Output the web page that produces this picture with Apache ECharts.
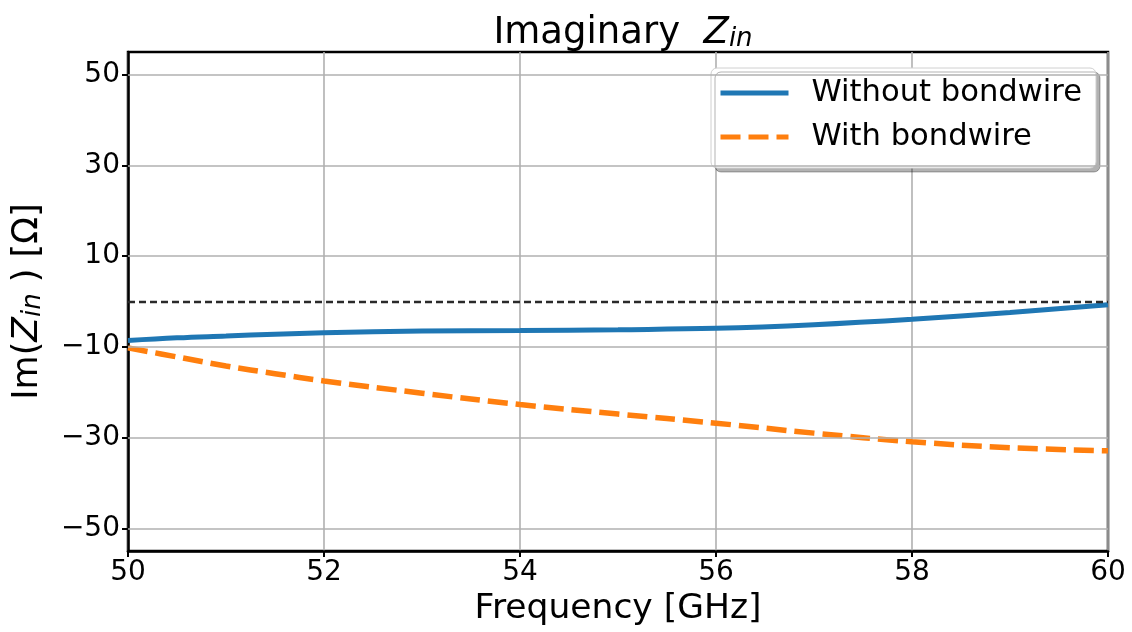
<!DOCTYPE html>
<html>
<head>
<meta charset="utf-8">
<script src="https://cdn.jsdelivr.net/npm/echarts@6/dist/echarts.min.js"></script>
<style>
  html, body { margin: 0; padding: 0; background: #ffffff; }
  #chart { width: 1132px; height: 632px; }
</style>
</head>
<body>
<div id="chart"></div>
<script>
// Frequency sweep (GHz) and imaginary input impedance (Ohm)
const freqGHz = [50, 50.5, 51, 51.5, 52, 53, 54, 55, 56, 57, 58, 59, 60];
const imZinWithout = [-8.6, -8.0, -7.6, -7.2, -6.9, -6.5, -6.4, -6.2, -5.9, -5.1, -3.9, -2.4, -0.7];
const imZinWith = [-10.2, -12.2, -14.2, -15.9, -17.5, -20.2, -22.7, -24.8, -26.8, -29.0, -30.9, -32.2, -32.9];
const yTicks = [-50, -30, -10, 10, 30, 50];
const zeroRef = 0;

const FONT = 'DejaVu Sans';
const toPairs = (xs, ys) => xs.map((x, i) => [x, ys[i]]);
const minusSign = v => String(v).replace('-', '\u2212');

const chart = echarts.init(document.getElementById('chart'), null, { renderer: 'canvas' });

chart.setOption({
  animation: false,
  backgroundColor: '#ffffff',
  textStyle: { fontFamily: FONT },
  title: {
    text: 'Imaginary  {z|Z}{s|in}',
    left: 618,
    textAlign: 'center',
    top: 10,
    textStyle: {
      fontFamily: FONT, fontSize: 37, fontWeight: 'normal', color: '#000',
      rich: {
        z: { fontFamily: FONT, fontStyle: 'italic', fontSize: 37, color: '#000' },
        s: { fontFamily: FONT, fontStyle: 'italic', fontSize: 26, color: '#000', verticalAlign: 'bottom', lineHeight: 22 }
      }
    }
  },
  grid: {
    left: 128, right: 24, top: 52, bottom: 80,
    show: true, borderColor: '#000', borderWidth: 2.5, backgroundColor: 'transparent'
  },
  legend: {
    orient: 'vertical',
    left: 711, top: 68,
    padding: [8, 14, 14, 7],
    itemWidth: 68, itemHeight: 14, itemGap: 10,
    backgroundColor: '#ffffff',
    borderColor: '#d0d0d0', borderWidth: 1, borderRadius: 6,
    shadowColor: 'rgba(0,0,0,0.3)', shadowBlur: 0, shadowOffsetX: 4, shadowOffsetY: 4,
    lineStyle: { width: 5 },
    itemStyle: { color: 'transparent', borderWidth: 0, opacity: 0 },
    textStyle: { fontFamily: FONT, fontSize: 30.6, color: '#000', lineHeight: 34, padding: [0, 0, 0, 18] },
    data: ['Without bondwire', 'With bondwire']
  },
  xAxis: {
    type: 'value', min: 50, max: 60, interval: 2,
    name: 'Frequency [GHz]', nameLocation: 'middle', nameGap: 40,
    nameTextStyle: { fontFamily: FONT, fontSize: 34.5, color: '#000' },
    axisLine: { show: true, onZero: false, lineStyle: { color: '#000', width: 2.5 } },
    axisTick: { show: true, inside: false, length: 6, lineStyle: { color: '#000', width: 2 } },
    axisLabel: { fontFamily: FONT, fontSize: 28, color: '#000', margin: 8 },
    splitLine: { show: true, lineStyle: { color: '#b0b0b0', width: 1.6 } }
  },
  yAxis: {
    type: 'value', min: -55, max: 55,
    name: 'Im({z|Z}{s|in} ) [\u03A9]', nameLocation: 'middle', nameRotate: 90, nameGap: 82,
    nameTextStyle: {
      fontFamily: FONT, fontSize: 35, color: '#000',
      rich: {
        z: { fontFamily: FONT, fontStyle: 'italic', fontSize: 36, color: '#000' },
        s: { fontFamily: FONT, fontStyle: 'italic', fontSize: 26, color: '#000', verticalAlign: 'bottom', lineHeight: 22 }
      }
    },
    axisLine: { show: true, onZero: false, lineStyle: { color: '#000', width: 2.5 } },
    axisTick: { show: true, inside: false, length: 6, customValues: yTicks, lineStyle: { color: '#000', width: 2 } },
    axisLabel: { fontFamily: FONT, fontSize: 28, color: '#000', margin: 8, customValues: yTicks, formatter: v => minusSign(v) },
    splitLine: { show: false }
  },
  series: [
    {
      // horizontal grid lines at the labelled ticks, plus the zero reference
      name: 'grid', type: 'line', data: [], z: 1, silent: true,
      markLine: {
        silent: true, symbol: ['none', 'none'], animation: false,
        label: { show: false },
        data: yTicks.map(v => ({ yAxis: v, lineStyle: { color: '#b0b0b0', width: 1.6, type: 'solid' } }))
          .concat([{ yAxis: zeroRef, lineStyle: { color: '#2a2a2a', width: 2.4, type: [7, 4] } }])
      }
    },
    {
      name: 'Without bondwire', type: 'line', z: 3,
      data: toPairs(freqGHz, imZinWithout),
      smooth: 0.4, symbol: 'none', showSymbol: false,
      lineStyle: { color: '#1f77b4', width: 5 },
      itemStyle: { color: '#1f77b4' }
    },
    {
      name: 'With bondwire', type: 'line', z: 4,
      data: toPairs(freqGHz, imZinWith),
      smooth: 0.4, symbol: 'none', showSymbol: false,
      lineStyle: { color: '#ff7f0e', width: 5.5, type: [20, 8], cap: 'butt' },
      itemStyle: { color: '#ff7f0e' }
    }
  ]
});
</script>
</body>
</html>
